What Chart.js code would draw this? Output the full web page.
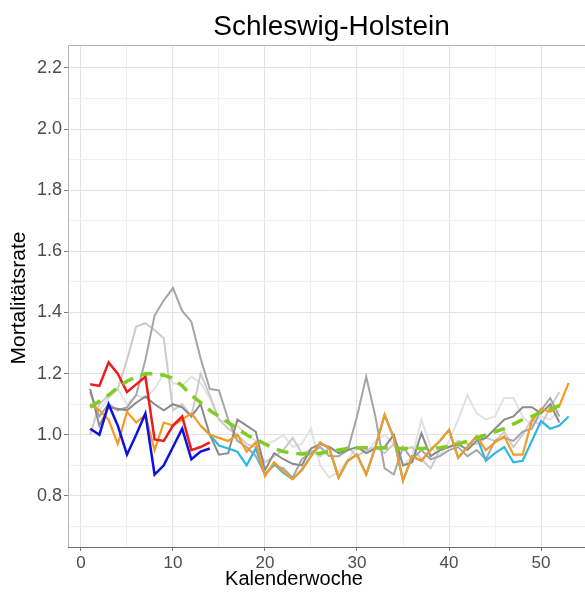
<!DOCTYPE html>
<html>
<head>
<meta charset="utf-8">
<script src="https://cdn.jsdelivr.net/npm/chart.js@4/dist/chart.umd.min.js"></script>
<style>
  html, body { margin: 0; padding: 0; background: #fff; overflow: hidden; }
  #rahmen { width: 593px; height: 594px; }
</style>
</head>
<body>
<div id="rahmen"><canvas id="sterblichkeit"></canvas></div>
<script>
// Kalenderwochen (x-Kategorien)
const kalenderwochen = [1,2,3,4,5,6,7,8,9,10,11,12,13,14,15,16,17,18,19,20,21,22,23,24,25,26,27,
  28,29,30,31,32,33,34,35,36,37,38,39,40,41,42,43,44,45,46,47,48,49,50,51,52,53];

// Achsenbeschriftung
const yTicks = [0.7,0.8,0.9,1.0,1.1,1.2,1.3,1.4,1.5,1.6,1.7,1.8,1.9,2.0,2.1,2.2];
const xTicks = [0,5,10,15,20,25,30,35,40,45,50,55];

// Vorjahre (grau), ab KW 1
const grauHellst = [1.1,1.08,1.12,1.15,1.1,1.13,1.12,1.15,1.2,1.17,
  1.16,1.19,1.17,1.12,1.05,1.04,1.03,1.0,0.98,0.97,
  0.98,1.0,0.96,0.97,1.02,0.9,0.86,0.88,0.92,0.96,
  0.94,0.98,1.0,0.97,0.9,0.93,1.05,0.96,0.93,0.98,
  1.05,1.13,1.07,1.05,1.06,1.12,1.12,1.06,1.03,1.06,
  1.05,1.08];
const grauHell = [1.0,1.1,1.13,1.15,1.245,1.354,1.365,1.343,1.316,1.08,
  1.1,1.06,1.2,1.13,1.05,1.02,1.0,0.97,0.96,0.91,
  0.93,0.95,0.99,0.94,0.95,0.93,0.96,0.94,0.96,0.93,
  0.95,0.96,0.94,0.97,0.95,0.96,0.92,0.89,0.95,0.96,
  0.98,0.97,0.97,0.99,0.98,1.01,0.96,1.0,1.05,1.03,
  1.09,1.14];
const grauMittel = [1.14,1.06,1.1,1.08,1.09,1.13,1.245,1.39,1.44,1.48,
  1.405,1.37,1.25,1.15,1.145,1.05,0.98,0.96,0.93,0.87,
  0.9,0.89,0.86,0.92,0.94,0.96,0.93,0.93,0.95,1.06,
  1.19,1.06,0.89,0.87,0.96,0.92,0.95,0.92,0.93,0.95,
  0.96,0.93,0.95,0.92,0.98,0.99,0.98,1.01,1.02,1.08,
  1.12,1.06];
const grauDunkel = [1.15,1.03,1.09,1.085,1.08,1.105,1.125,1.1,1.08,1.1,
  1.09,1.06,1.1,1.0,0.935,0.94,1.05,1.03,1.01,0.885,
  0.94,0.92,0.905,0.9,0.955,0.97,0.96,0.94,0.95,0.96,
  0.94,0.955,0.96,1.0,0.9,0.91,1.005,0.93,0.95,0.96,
  0.97,0.95,0.98,0.99,1.02,1.05,1.06,1.09,1.09,1.07,
  1.1,1.04];

// orange, ab KW 1
const orange = [1.1,1.08,1.05,0.97,1.075,1.04,1.065,0.95,1.04,1.03,
  1.05,1.07,1.03,1.0,0.99,0.98,1.0,0.945,0.975,0.865,
  0.91,0.88,0.855,0.885,0.93,0.975,0.955,0.86,0.915,0.935,
  0.87,0.96,1.065,0.99,0.85,0.93,0.915,0.95,0.98,1.016,
  0.925,0.96,0.995,0.95,0.975,0.995,0.935,0.935,1.045,1.085,
  1.075,1.095,1.17];
// hellblau, ab KW 13
const hellblauStart = 13;
const hellblau = [1.03,1.0,0.965,0.955,0.945,0.9,0.955,0.87,0.905,0.875,
  0.855,0.885,0.93,0.975,0.955,0.86,0.915,0.935,0.87,0.96,
  1.065,0.99,0.85,0.93,0.915,0.95,0.98,1.016,0.925,0.96,
  0.995,0.915,0.94,0.96,0.91,0.915,0.98,1.045,1.02,1.03,
  1.06];
// rot und blau, ab KW 1
const rot = [1.165,1.16,1.237,1.2,1.14,1.165,1.19,0.985,0.98,1.03,1.06,0.95,0.96,0.975];
const blau = [1.02,1.0,1.1,1.03,0.935,1.0,1.07,0.87,0.9,0.96,1.02,0.92,0.945,0.955];
// Mittelwert (gestrichelt grün)
const mittel = [1.09,1.11,1.13,1.155,1.175,1.19,1.2,1.2,1.195,1.185,
  1.16,1.13,1.105,1.08,1.06,1.04,1.02,1.0,0.985,0.97,
  0.955,0.945,0.94,0.937,0.937,0.94,0.945,0.95,0.955,0.957,
  0.958,0.958,0.957,0.956,0.955,0.955,0.955,0.956,0.958,0.962,
  0.97,0.98,0.99,1.0,1.01,1.02,1.035,1.05,1.06,1.075,
  1.085,1.095];

// Punkte aus Wochen + Werten bauen
function punkte(werte, start) {
  start = start || 1;
  return werte.map((v, i) => ({ x: kalenderwochen[start - 1 + i], y: v }));
}

function linie(werte, farbe, breite, start) {
  return {
    data: punkte(werte, start),
    borderColor: farbe,
    borderWidth: breite,
    pointRadius: 0,
    tension: 0,
    fill: false
  };
}

const gruen = linie(mittel, '#7fcc22', 3.5);
gruen.borderDash = [12, 8];

// erster Datensatz liegt oben
const datensaetze = [
  gruen,
  linie(rot, '#ee1c1c', 2.5),
  linie(blau, '#1010dd', 2.5),
  linie(orange, '#f59a23', 2.2),
  linie(hellblau, '#2bb8e6', 2.2, hellblauStart),
  linie(grauDunkel, '#8a8a8a', 2),
  linie(grauMittel, '#a6a6a6', 2),
  linie(grauHell, '#cbcbcb', 2),
  linie(grauHellst, '#e2e2e2', 2)
];

const schrift = '"Liberation Sans", Arial, sans-serif';

// Titel, Achsentitel und Panelrahmen
const rahmenPlugin = {
  id: 'rahmenPlugin',
  afterDraw(chart) {
    const a = chart.chartArea;
    const c = chart.ctx;
    c.save();
    c.strokeStyle = '#b3b3b3';
    c.lineWidth = 1;
    c.beginPath();
    c.moveTo(a.left + 0.5, a.bottom);
    c.lineTo(a.left + 0.5, a.top + 0.5);
    c.lineTo(a.right, a.top + 0.5);
    c.stroke();
    c.strokeStyle = '#6e6e6e';
    c.beginPath();
    c.moveTo(a.left, a.bottom + 0.5);
    c.lineTo(a.right, a.bottom + 0.5);
    c.stroke();

    c.fillStyle = '#000';
    c.textAlign = 'center';
    c.textBaseline = 'alphabetic';
    c.font = '28px ' + schrift;
    c.fillText('Schleswig-Holstein', (a.left + a.right) / 2 + 1, 35);

    c.font = '20px ' + schrift;
    c.fillText('Kalenderwoche', 294, 585);

    c.translate(25, 298);
    c.rotate(-Math.PI / 2);
    c.font = '21px ' + schrift;
    c.fillText('Mortalitätsrate', 0, 0);
    c.restore();
  }
};

const istGerade = v => Math.round(v * 10) % 2 === 0;

new Chart(document.getElementById('sterblichkeit'), {
  type: 'line',
  data: { datasets: datensaetze },
  options: {
    responsive: true,
    maintainAspectRatio: false,
    animation: false,
    layout: { padding: { top: 45, left: 0, right: 0, bottom: 0 } },
    plugins: { legend: { display: false }, tooltip: { enabled: false } },
    scales: {
      x: {
        type: 'linear',
        min: -1.41,
        max: 55.65,
        afterBuildTicks: s => { s.ticks = xTicks.map(v => ({ value: v })); },
        afterFit: s => { s.height = 47; },
        ticks: {
          autoSkip: false,
          maxRotation: 0,
          padding: 2,
          color: '#4d4d4d',
          font: { family: schrift, size: 17 },
          callback: v => (v % 10 === 0 ? String(v) : '')
        },
        grid: {
          color: ctx => (ctx.tick && ctx.tick.value % 10 === 0 ? '#e3e3e3' : '#f0f0f0'),
          tickColor: ctx => (ctx.tick && ctx.tick.value % 10 === 0 ? '#7a7a7a' : 'rgba(0,0,0,0)'),
          tickLength: 4
        },
        border: { display: false },
        title: { display: false }
      },
      y: {
        min: 0.633,
        max: 2.275,
        afterBuildTicks: s => { s.ticks = yTicks.map(v => ({ value: v })); },
        afterFit: s => { s.width = 68; },
        ticks: {
          autoSkip: false,
          padding: 2,
          color: '#4d4d4d',
          font: { family: schrift, size: 18 },
          callback: v => (istGerade(v) ? v.toFixed(1) : '')
        },
        grid: {
          color: ctx => (ctx.tick && istGerade(ctx.tick.value) ? '#e3e3e3' : '#f0f0f0'),
          tickColor: ctx => (ctx.tick && istGerade(ctx.tick.value) ? '#7a7a7a' : 'rgba(0,0,0,0)'),
          tickLength: 4
        },
        border: { display: false },
        title: { display: false }
      }
    }
  },
  plugins: [rahmenPlugin]
});
</script>
</body>
</html>
